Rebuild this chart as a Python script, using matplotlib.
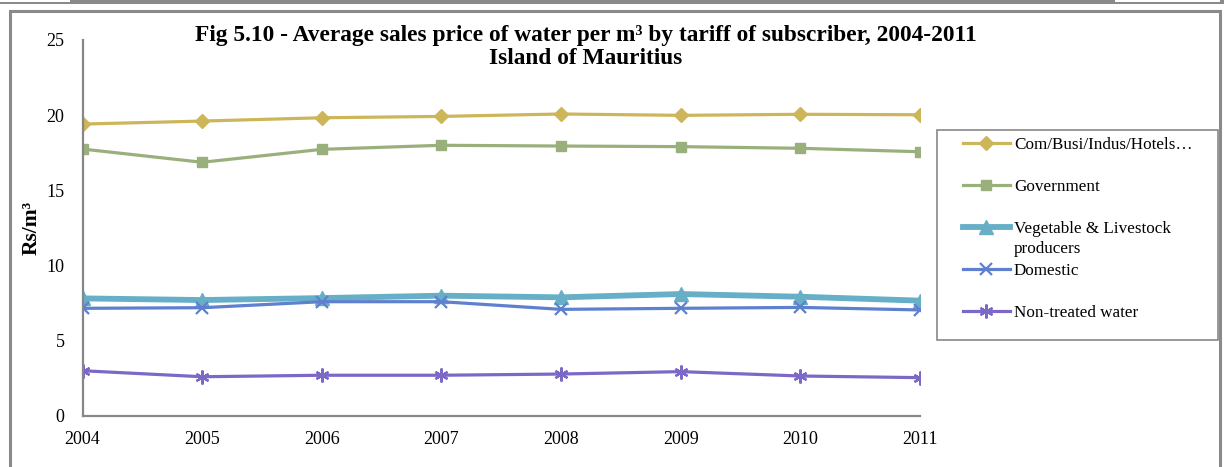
import matplotlib
matplotlib.use("Agg")
import matplotlib.pyplot as plt
from matplotlib.patches import Rectangle

# values (Rs per m3)
years = [2004, 2005, 2006, 2007, 2008, 2009, 2010, 2011]
com_busi = [19.41, 19.61, 19.83, 19.92, 20.08, 19.99, 20.06, 20.03]
government = [17.75, 16.87, 17.73, 18.0, 17.95, 17.91, 17.80, 17.57]
veg_livestock = [7.82, 7.71, 7.84, 8.0, 7.89, 8.11, 7.93, 7.67]
domestic = [7.16, 7.20, 7.60, 7.60, 7.09, 7.16, 7.22, 7.05]
non_treated = [3.01, 2.61, 2.71, 2.71, 2.79, 2.95, 2.66, 2.55]

labels = ["Com/Busi/Indus/Hotels\u2026", "Government",
          "Vegetable & Livestock", "Domestic", "Non-treated water"]
label_wrap = "producers"  # second line of the vegetable label

plt.rcParams['font.family'] = ['Liberation Serif', 'DejaVu Serif']

W, H = 1224, 467
fig = plt.figure(figsize=(W / 100, H / 100), dpi=100)
ax = fig.add_axes([82.5 / W, 1 - 416 / H, (920 - 82.5) / W, (416 - 40) / H])

ax.plot(years, com_busi, color='#CDB55A', lw=2.3, marker='D', ms=6.8, label=labels[0])
ax.plot(years, government, color='#9AB07C', lw=2.3, marker='s', ms=7.8, label=labels[1])
ax.plot(years, veg_livestock, color='#66AFC7', lw=4.2, marker='^', ms=10.5, label=labels[2])
ax.plot(years, domestic, color='#5E80CF', lw=2.3, marker='x', ms=9, mew=1.6, label=labels[3])
ax.plot(years, non_treated, color='#7C68C6', lw=2.3, marker=(6, 2, 0), ms=10, mew=1.6,
        label=labels[4])

ax.set_xlim(2004, 2011)
ax.set_ylim(0, 25)
ax.set_xticks(years)
ax.set_yticks([0, 5, 10, 15, 20, 25])
ax.tick_params(axis='both', length=0, labelsize=13)
ax.tick_params(axis='x', pad=11)
ax.tick_params(axis='y', pad=13)
for side in ['top', 'right']:
    ax.spines[side].set_visible(False)
for side in ['left', 'bottom']:
    ax.spines[side].set_color('#878787')
    ax.spines[side].set_linewidth(1.6)

ax.set_ylabel('Rs/m\u00b3', fontsize=15.5, fontweight='bold', labelpad=3)

fig.text(586 / W, 1 - 41 / H, 'Fig 5.10 - Average sales price of water per m\u00b3 by tariff of subscriber, 2004-2011',
         ha='center', va='baseline', fontsize=16.8, fontweight='bold')
fig.text(586 / W, 1 - 64 / H, 'Island of Mauritius',
         ha='center', va='baseline', fontsize=16.8, fontweight='bold')

# legend box, fixed size like the spreadsheet export
fig.add_artist(Rectangle((937 / W, 1 - 340 / H), (1218 - 937) / W, (340 - 130) / H,
                         transform=fig.transFigure, fill=False, edgecolor='#888888', lw=1.2))
leg = ax.legend(loc='upper left', bbox_to_anchor=(963 / W, 1 - 137 / H), bbox_transform=fig.transFigure,
                fontsize=12.3, frameon=False, handlelength=2.75, handletextpad=0.23,
                labelspacing=1.52, borderpad=0, borderaxespad=0)

fig.canvas.draw()
bb = leg.get_texts()[2].get_window_extent()
fig.text(bb.x0 / W, (bb.y0 - 20) / H, label_wrap, fontsize=12.3, ha='left', va='bottom')

# outer frame of the exported chart
fig.add_artist(Rectangle((9.5 / W, -0.2), (1219.5 - 9.5) / W, 1.2 - 10.5 / H,
                         transform=fig.transFigure, fill=False, edgecolor='#8a8a8a', lw=2.2))
fig.add_artist(Rectangle((0, 1 - 3.5 / H), 1, 3.5 / H, transform=fig.transFigure,
                         facecolor='#8a8a8a', edgecolor='none'))
fig.add_artist(Rectangle((0, 1 - 2 / H), 70 / W, 2 / H, transform=fig.transFigure,
                         facecolor='white', edgecolor='none'))
fig.add_artist(Rectangle((1115 / W, 1 - 2 / H), 105 / W, 2 / H, transform=fig.transFigure,
                         facecolor='white', edgecolor='none'))

fig.savefig('out.png', dpi=100)
